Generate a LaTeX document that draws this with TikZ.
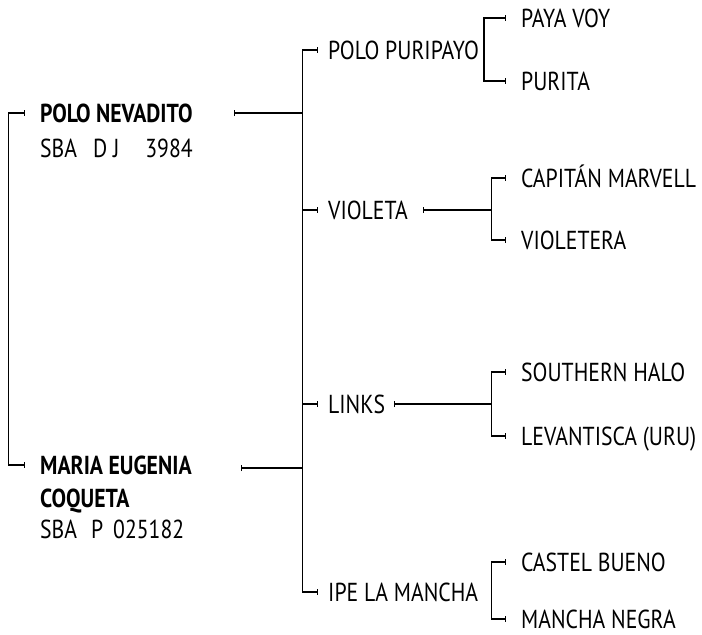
\documentclass[tikz,border=0pt]{standalone}
\usepackage{fontspec}
\setmainfont{PT Sans}[FakeStretch=0.835]
\usepackage{tikz}
\usetikzlibrary{arrows.meta, positioning}
\tikzset{
	horse/.style    = {anchor=west, inner sep=0pt,
		text height=18pt, text depth=0pt,
		font=\fontsize{26}{31}\selectfont},
	founder/.style  = {horse, font=\fontsize{26}{31}\selectfont\bfseries},
	regline/.style  = {horse},
	fork/.style     = {draw, line width=1.1pt, {Bar[width=6pt]}-{Bar[width=6pt]}},
	sireline/.style = {draw, line width=1.1pt, {Bar[width=6pt]}-}
}

\begin{document}
\begin{tikzpicture}
	[
	x = 1pt,
	y = -1pt
	]
	\useasboundingbox (0,0) rectangle (702,635);
	% first generation
	\node [founder] (nevadito) at (40,113) {POLO NEVADITO};
	\node [regline, below=35pt of nevadito.west, anchor=west] (nevaditoreg)
		{SBA\hspace{16pt}D J\hspace{26pt}3984};
	\node [founder] (maria) at (40,465) {MARIA EUGENIA};
	\node [founder, below=33pt of maria.west, anchor=west] (mariab) {COQUETA};
	\node [regline, below=31pt of mariab.west, anchor=west] (mariareg)
		{SBA\hspace{14pt}P\hspace{10pt}025182};
	% second generation
	\node [horse] (puripayo) at (328,50) {POLO PURIPAYO};
	\node [horse] (violeta) at (328,210) {VIOLETA};
	\node [horse] (links) at (328,404) {LINKS};
	\node [horse] (ipe) at (328,592) {IPE LA MANCHA};
	% third generation
	\node [horse] (payavoy) at (521,18) {PAYA VOY};
	\node [horse] (purita) at (521,81) {PURITA};
	\node [horse] (capitan) at (521,178) {CAPITÁN MARVELL};
	\node [horse] (violetera) at (521,240) {VIOLETERA};
	\node [horse] (southern) at (521,372) {SOUTHERN HALO};
	\node [horse] (levantisca) at (521,436) {LEVANTISCA (URU)};
	\node [horse] (castel) at (521,562) {CASTEL BUENO};
	\node [horse] (mancha) at (521,619) {MANCHA NEGRA};
	% junctions and bar ends
	\coordinate (j0) at (8.5,300);
	\coordinate (j1) at (302.5,300);
	\coordinate (j2) at (484,50);
	\coordinate (j3) at (491.5,210);
	\coordinate (j4) at (491.5,404);
	\coordinate (j5) at (491.5,592);
	\coordinate (nevaditobar) at (234,113);
	\coordinate (mariabar) at (241,468);
	\coordinate (violetabar) at (423,210);
	\coordinate (linksbar) at (394,404);
	% brackets
	\draw [fork] ([xshift=-15pt]nevadito.west) -| (j0) |- ([xshift=-15pt]maria.west);
	\draw [sireline] (nevaditobar) -- (nevaditobar -| j1);
	\draw [fork] ([xshift=-10pt]puripayo.west) -| (j1) |- ([xshift=-10pt]violeta.west);
	\draw [sireline] (mariabar) -- (mariabar -| j1);
	\draw [fork] ([xshift=-10pt]links.west) -| (j1) |- ([xshift=-10pt]ipe.west);
	\draw [fork] ([xshift=-15pt]payavoy.west) -| (j2) |- ([xshift=-15pt]purita.west);
	\draw [sireline] (violetabar) -- (violetabar -| j3);
	\draw [fork] ([xshift=-15pt]capitan.west) -| (j3) |- ([xshift=-15pt]violetera.west);
	\draw [sireline] (linksbar) -- (linksbar -| j4);
	\draw [fork] ([xshift=-15pt]southern.west) -| (j4) |- ([xshift=-15pt]levantisca.west);
	\draw [fork] ([xshift=-15pt]castel.west) -| (j5) |- ([xshift=-15pt]mancha.west);
\end{tikzpicture}
\end{document}
